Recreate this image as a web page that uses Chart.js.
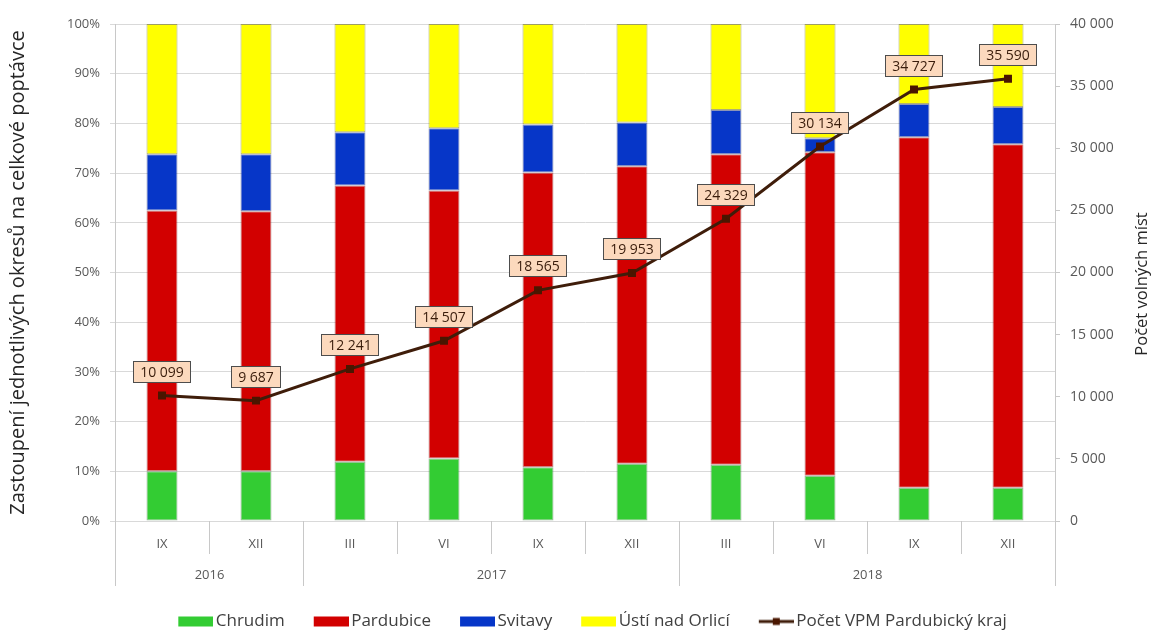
<!DOCTYPE html>
<html><head><meta charset="utf-8">
<script src="https://cdn.jsdelivr.net/npm/chart.js@4"></script>
<style>html,body{margin:0;padding:0;background:#fff}</style>
</head><body>
<canvas id="c" width="1158" height="633"></canvas>
<script>
// ---- data ----
const months = ['IX','XII','III','VI','IX','XII','III','VI','IX','XII'];
const years = ['2016','2016','2017','2017','2017','2017','2018','2018','2018','2018'];
const chrudim   = [10.0, 10.0, 11.9, 12.6, 10.8, 11.5, 11.3,  9.1,  6.7,  6.7];
const pardubice = [52.5, 52.3, 55.6, 53.9, 59.3, 59.9, 62.5, 65.1, 70.5, 69.1];
const svitavy   = [11.3, 11.5, 10.7, 12.5,  9.7,  8.8,  8.9,  2.8,  6.7,  7.5];
const usti      = [26.2, 26.2, 21.8, 21.0, 20.2, 19.8, 17.3, 23.0, 16.1, 16.7];
const pocetVPM  = [10099, 9687, 12241, 14507, 18565, 19953, 24329, 30134, 34727, 35590];
const seriesNames = ['Chrudim','Pardubice','Svitavy','Ústí nad Orlicí','Počet VPM Pardubický kraj'];
const leftTitle = 'Zastoupení jednotlivých okresů na celkové poptávce';
const rightTitle = 'Počet volných míst';

// ---- styles ----
const FONT = "'Open Sans', 'DejaVu Sans', sans-serif";
Chart.defaults.font.family = FONT;
const colGreen = '#33cc33', colRed = '#d20000', colBlue = '#0636c8', colYellow = '#ffff00';
const colLine = '#3f1d0a', colMarker = '#4a1600';
const fmt = v => String(v).replace(/\B(?=(\d{3})+(?!\d))/g, ' ');

// legend swatch images
const PSW = 56, IMGW = 68, SWW = 35;
function swatch(color) {
  const c = document.createElement('canvas'); c.width = IMGW; c.height = 12;
  const g = c.getContext('2d'); g.fillStyle = color; g.fillRect(IMGW - SWW, 1, SWW, 10);
  return c;
}
function lineSwatch() {
  const c = document.createElement('canvas'); c.width = IMGW; c.height = 12;
  const g = c.getContext('2d'); g.strokeStyle = colLine; g.lineWidth = 3;
  g.beginPath(); g.moveTo(IMGW - SWW, 6); g.lineTo(IMGW, 6); g.stroke();
  g.fillStyle = colMarker; g.fillRect(IMGW - SWW / 2 - 3.5, 2.5, 7, 7);
  return c;
}
const legendImgs = [swatch(colGreen), swatch(colRed), swatch(colBlue), swatch(colYellow), lineSwatch()];

const barCommon = { type: 'bar', yAxisID: 'y', stack: 's', barPercentage: 0.33, categoryPercentage: 1,
  borderWidth: 1, borderSkipped: false, order: 1 };

const yearsPlugin = {
  id: 'years',
  afterDraw(chart) {
    const xs = chart.scales.x, area = chart.chartArea, ctx = chart.ctx;
    const w = xs.getPixelForValue(1) - xs.getPixelForValue(0);
    ctx.save();
    ctx.strokeStyle = '#c8c8c8'; ctx.lineWidth = 1;
    // month separators
    for (let i = 0; i <= months.length; i++) {
      const x = Math.round(xs.getPixelForValue(0) - w / 2 + i * w) + 0.5;
      ctx.beginPath(); ctx.moveTo(x, area.bottom); ctx.lineTo(x, area.bottom + 33); ctx.stroke();
    }
    ctx.fillStyle = '#595959'; ctx.font = '13px ' + FONT;
    ctx.textAlign = 'center'; ctx.textBaseline = 'middle';
    let start = 0;
    for (let i = 1; i <= years.length; i++) {
      if (i === years.length || years[i] !== years[start]) {
        const x0 = Math.round(xs.getPixelForValue(start) - w / 2) + 0.5;
        const x1 = Math.round(xs.getPixelForValue(i - 1) + w / 2) + 0.5;
        ctx.beginPath(); ctx.moveTo(x0, area.bottom); ctx.lineTo(x0, area.bottom + 65); ctx.stroke();
        ctx.beginPath(); ctx.moveTo(x1, area.bottom); ctx.lineTo(x1, area.bottom + 65); ctx.stroke();
        ctx.fillText(years[start], (x0 + x1) / 2, area.bottom + 54);
        start = i;
      }
    }
    // right axis title
    ctx.fillStyle = '#262626'; ctx.font = '16.5px ' + FONT;
    ctx.translate(1142, 284);
    ctx.rotate(-Math.PI / 2);
    ctx.fillText(rightTitle, 0, 0);
    ctx.restore();
  }
};

const labelPlugin = {
  id: 'vpmLabels',
  afterDatasetsDraw(chart) {
    const ctx = chart.ctx;
    const meta = chart.getDatasetMeta(4);
    ctx.save();
    ctx.font = '14px ' + FONT;
    ctx.textAlign = 'center'; ctx.textBaseline = 'middle';
    meta.data.forEach((pt, i) => {
      const txt = fmt(pocetVPM[i]);
      const tw = ctx.measureText(txt).width;
      const bw = Math.round(tw + 14), bh = 22;
      const cx = Math.round(pt.x), cy = Math.round(pt.y - 24);
      const x = cx - bw / 2, y = cy - bh / 2;
      ctx.fillStyle = '#fcd9bd';
      ctx.fillRect(x, y, bw, bh);
      ctx.strokeStyle = '#4d4d4d'; ctx.lineWidth = 1;
      ctx.strokeRect(Math.round(x) + 0.5, Math.round(y) + 0.5, bw - 1, bh - 1);
      ctx.fillStyle = '#3a1d0c';
      ctx.fillText(txt, cx, cy + 1);
    });
    ctx.restore();
  }
};

new Chart(document.getElementById('c'), {
  data: {
    labels: months,
    datasets: [
      { ...barCommon, label: seriesNames[0], data: chrudim, backgroundColor: colGreen, borderColor: 'rgba(30,90,30,0.45)' },
      { ...barCommon, label: seriesNames[1], data: pardubice, backgroundColor: colRed, borderColor: 'rgba(110,0,0,0.45)' },
      { ...barCommon, label: seriesNames[2], data: svitavy, backgroundColor: colBlue, borderColor: 'rgba(0,20,90,0.45)' },
      { ...barCommon, label: seriesNames[3], data: usti, backgroundColor: colYellow, borderColor: 'rgba(110,110,0,0.55)' },
      { type: 'line', label: seriesNames[4], data: pocetVPM, yAxisID: 'y1', order: 0,
        borderColor: colLine, borderWidth: 3, backgroundColor: colMarker,
        pointStyle: 'rect', pointRadius: 3.5, pointBackgroundColor: colMarker, pointBorderColor: colMarker,
        tension: 0, fill: false }
    ]
  },
  options: {
    responsive: false,
    animation: false,
    layout: { padding: { top: 24, bottom: -7, left: 0, right: 0 } },
    plugins: {
      tooltip: { enabled: false },
      legend: {
        position: 'bottom',
        labels: {
          usePointStyle: true, pointStyleWidth: PSW, padding: 2,
          font: { size: 17 }, color: '#404040',
          generateLabels: (chart) => chart.data.datasets.map((ds, i) => ({
            text: ds.label, pointStyle: legendImgs[i], datasetIndex: i, hidden: false,
            fontColor: '#404040', lineWidth: 0, strokeStyle: 'rgba(0,0,0,0)', fillStyle: 'rgba(0,0,0,0)'
          }))
        }
      }
    },
    scales: {
      x: {
        stacked: true,
        grid: { display: false, drawTicks: false },
        border: { display: false },
        ticks: { color: '#595959', font: { size: 13 }, padding: 15, maxRotation: 0 },
        afterFit: s => { s.height = 90; }
      },
      y: {
        position: 'left', stacked: true, min: 0, max: 100,
        ticks: { stepSize: 10, callback: v => v + '%', color: '#595959', font: { size: 13 }, padding: 10 },
        grid: { color: '#d9d9d9', tickLength: 5, drawTicks: true },
        border: { display: true, color: '#c8c8c8' },
        title: { display: true, text: leftTitle, color: '#262626', font: { size: 20 }, padding: { top: 6, bottom: 0 } },
        afterFit: s => { s.width = 115; }
      },
      y1: {
        position: 'right', min: 0, max: 40000,
        ticks: { stepSize: 5000, callback: v => fmt(v), color: '#595959', font: { size: 14 }, padding: 10 },
        grid: { drawOnChartArea: false, color: '#c8c8c8', tickLength: 5 },
        border: { display: true, color: '#c8c8c8' },
        afterFit: s => { s.width = 103; }
      }
    }
  },
  plugins: [yearsPlugin, labelPlugin]
});
</script>
</body></html>
